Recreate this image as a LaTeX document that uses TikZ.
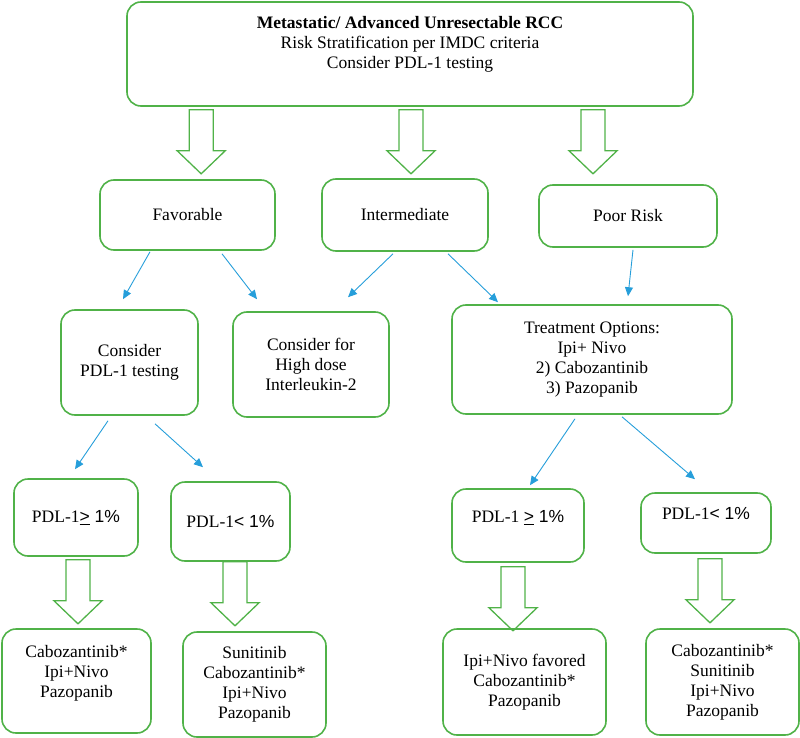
\documentclass[tikz,border=0pt]{standalone}
\usepackage{fontspec}
\setmainfont{Liberation Serif}
\setsansfont{Liberation Sans}
\usetikzlibrary{arrows.meta, calc}
\definecolor{boxgreen}{RGB}{80,178,72}
\definecolor{linkblue}{RGB}{38,158,218}

\begin{document}
\begin{tikzpicture}[
    x=1pt, y=-1pt,
    box/.style={draw=boxgreen, line width=1.6pt, rounded corners=14pt, align=center, font=\fontsize{17.5}{20}\selectfont, inner sep=4pt},
    link/.style={-{Triangle[length=9pt,width=8pt]}, draw=linkblue, line width=0.9pt},
    fatarrow/.pic={\draw[boxgreen, line width=1.3pt, line join=miter] (-12,0) -- (12,0) -- (12,41) -- (24,41) -- (0,64) -- (-24,41) -- (-12,41) -- cycle;}
]
\useasboundingbox (0,0) rectangle (800,738);

% Title box
\node[box, minimum width=566pt, minimum height=104pt, text depth=23pt] (rcc) at (410,54) {\textbf{Metastatic/ Advanced Unresectable RCC}\\Risk Stratification per IMDC criteria\\Consider PDL-1 testing};

% Risk groups
\node[box, minimum width=175pt, minimum height=70pt] (fav) at (187.5,215) {Favorable};
\node[box, minimum width=166pt, minimum height=72pt] (inter) at (405,215) {Intermediate};
\node[box, minimum width=178pt, minimum height=62pt] (poor) at (628,216) {Poor Risk};

% Second level
\node[box, minimum width=137pt, minimum height=105pt] (test) at (129.5,362.5) {Consider\\PDL-1 testing};
\node[box, minimum width=156pt, minimum height=105pt] (il2) at (311,364.5) {Consider for\\High dose\\Interleukin-2};
\node[box, minimum width=280pt, minimum height=109pt] (treat) at (592,359.5) {Treatment Options:\\Ipi+ Nivo\\2) Cabozantinib\\3) Pazopanib};

% PDL-1 split
\node[box, minimum width=124pt, minimum height=77pt] (pos1) at (76,517.5) {PDL-1{\sffamily\underline{>} 1\%}};
\node[box, minimum width=119pt, minimum height=79pt] (neg1) at (230.5,521.5) {PDL-1{\sffamily< 1\%}};
\node[box, minimum width=132pt, minimum height=73pt, text depth=18pt] (pos2) at (518,525.5) {PDL-1 {\sffamily\underline{>} 1\%}};
\node[box, minimum width=130pt, minimum height=60pt, text depth=20pt] (neg2) at (706,523) {PDL-1{\sffamily< 1\%}};

% Drug lists
\node[box, minimum width=149pt, minimum height=104pt, text depth=20pt] (out1) at (76.5,681) {Cabozantinib*\\Ipi+Nivo\\Pazopanib};
\node[box, minimum width=143pt, minimum height=105pt] (out2) at (254.5,684.5) {Sunitinib\\Cabozantinib*\\Ipi+Nivo\\Pazopanib};
\node[box, minimum width=163pt, minimum height=106pt] (out3) at (524.5,682) {Ipi+Nivo favored\\Cabozantinib*\\Pazopanib};
\node[box, minimum width=153pt, minimum height=106pt] (out4) at (722.5,682) {Cabozantinib*\\Sunitinib\\Ipi+Nivo\\Pazopanib};

% Block arrows
\pic at ($(rcc.south west)+(75,3)$) {fatarrow};
\pic at ($(rcc.south)+(1,3)$) {fatarrow};
\pic at ($(rcc.south)+(183,3)$) {fatarrow};
\pic at ($(pos1.south)+(2,3)$) {fatarrow};
\pic at ($(neg1.south)+(4.5,0)$) {fatarrow};
\pic at ($(pos2.south)+(-5,4)$) {fatarrow};
\pic at ($(neg2.south)+(4,5)$) {fatarrow};

% Thin arrows
\draw[link] ($(fav.south)+(-37.5,1)$) -- ($(test.north)+(-6.5,-10)$);
\draw[link] ($(fav.south)+(34.5,3)$) -- ($(il2.north)+(-54,-12)$);
\draw[link] ($(inter.south)+(-12,2)$) -- ($(il2.north)+(37,-14)$);
\draw[link] ($(inter.south)+(43,2)$) -- ($(treat.north)+(-94,-2)$);
\draw[link] ($(poor.south)+(5,2)$) -- ($(treat.north)+(36,-8)$);
\draw[link] ($(test.south)+(-21.5,5)$) -- ($(pos1.north)+(-1,-9)$);
\draw[link] ($(test.south)+(25.5,8)$) -- ($(neg1.north)+(-27.5,-14)$);
\draw[link] ($(treat.south)+(-17,4)$) -- ($(pos2.north)+(12,-3)$);
\draw[link] ($(treat.south)+(30,2)$) -- ($(neg2.north)+(-11,-13)$);

\end{tikzpicture}
\end{document}
